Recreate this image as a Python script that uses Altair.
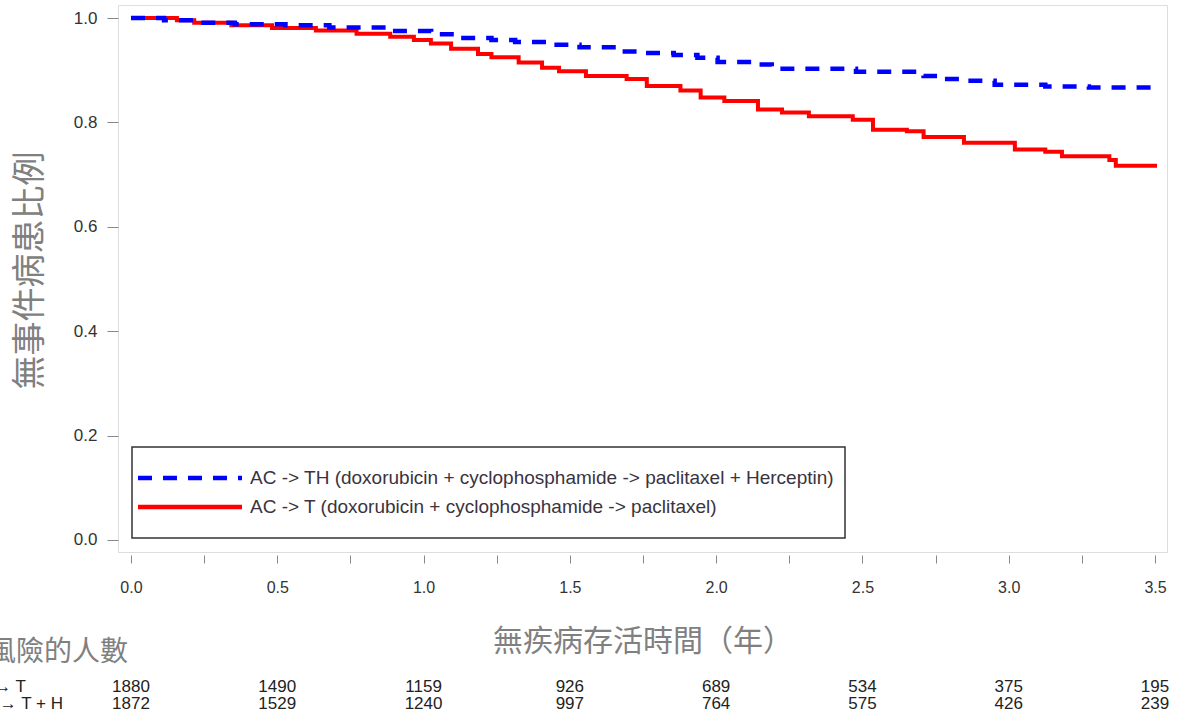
import altair as alt
import pandas as pd

# Kaplan-Meier curves
time_t = [0, 0.157, 0.216, 0.343, 0.482, 0.632, 0.771, 0.886, 0.967, 1.025, 1.094, 1.186,
          1.232, 1.325, 1.405, 1.463, 1.555, 1.694, 1.763, 1.878, 1.947, 2.028, 2.143, 2.225,
          2.317, 2.467, 2.536, 2.652, 2.709, 2.847, 3.021, 3.125, 3.182, 3.344, 3.366, 3.5]
surv_t = [1.0, 0.996, 0.991, 0.986, 0.981, 0.976, 0.970, 0.964, 0.958, 0.951, 0.941, 0.931,
          0.925, 0.915, 0.905, 0.898, 0.889, 0.883, 0.870, 0.861, 0.848, 0.841, 0.825, 0.819,
          0.812, 0.805, 0.786, 0.783, 0.772, 0.761, 0.748, 0.744, 0.735, 0.728, 0.717, 0.713]

time_th = [0, 0.113, 0.228, 0.355, 0.528, 0.678, 0.886, 1.026, 1.118, 1.232, 1.313, 1.439,
           1.533, 1.660, 1.74, 1.855, 1.936, 2.005, 2.132, 2.19, 2.478, 2.709, 2.778, 2.847,
           2.952, 3.125, 3.274, 3.5]
surv_th = [1.0, 0.996, 0.991, 0.988, 0.986, 0.982, 0.975, 0.969, 0.962, 0.958, 0.954, 0.949,
           0.944, 0.936, 0.933, 0.929, 0.924, 0.916, 0.911, 0.903, 0.897, 0.889, 0.883, 0.880,
           0.872, 0.869, 0.867, 0.865]

# Number at risk
risk_times = [0, 0.5, 1.0, 1.5, 2.0, 2.5, 3.0, 3.5]
risk_t = [1880, 1490, 1159, 926, 689, 534, 375, 195]
risk_th = [1872, 1529, 1240, 997, 764, 575, 426, 239]

x_ticks = [0, 0.25, 0.5, 0.75, 1.0, 1.25, 1.5, 1.75, 2.0, 2.25, 2.5, 2.75, 3.0, 3.25, 3.5]
y_ticks = [0.0, 0.2, 0.4, 0.6, 0.8, 1.0]

label_th = "AC -> TH (doxorubicin + cyclophosphamide -> paclitaxel + Herceptin)"
label_t = "AC -> T (doxorubicin + cyclophosphamide -> paclitaxel)"

df_t = pd.DataFrame({"time": time_t, "surv": surv_t})
df_th = pd.DataFrame({"time": time_th, "surv": surv_th})
df_rt = pd.DataFrame({"time": risk_times, "n": risk_t})
df_rth = pd.DataFrame({"time": risk_times, "n": risk_th})
one = pd.DataFrame({"a": [0]})

xscale = alt.Scale(domain=[-0.0444, 3.541], nice=False, zero=False)
yscale = alt.Scale(domain=[-0.023, 1.025], nice=False, zero=False)

CJK = "Noto Sans CJK TC"
SANS = "Liberation Sans"
NARROW = "Liberation Sans Narrow, Liberation Sans"

xaxis = alt.Axis(values=x_ticks,
                 labelExpr="(datum.value * 4) % 2 == 0 ? format(datum.value, '.1f') : ''",
                 tickSize=8, offset=3, domain=False, grid=False,
                 labelFont=SANS, labelFontSize=16, labelColor="#333", labelPadding=16,
                 tickColor="#888", tickWidth=1,
                 title="無疾病存活時間（年）", titleFont=CJK, titleFontSize=30,
                 titleFontWeight="normal", titleColor="#808080", titleY=86,
                 titleBaseline="middle")
yaxis = alt.Axis(values=y_ticks, format=".1f", tickSize=11, domain=False, grid=False,
                 labelFont=SANS, labelFontSize=17, labelColor="#333", labelPadding=10,
                 tickColor="#888", tickWidth=1,
                 title="無事件病患比例", titleFont=CJK, titleFontSize=34,
                 titleFontWeight="normal", titleColor="#808080", titleX=-88, titleY=265,
                 titleAngle=270, titleAlign="center", titleBaseline="middle")

red = alt.Chart(df_t).mark_line(color="#ff0000", strokeWidth=4, interpolate="step-after").encode(
    x=alt.X("time:Q", scale=xscale, axis=xaxis),
    y=alt.Y("surv:Q", scale=yscale, axis=yaxis),
)
blue = alt.Chart(df_th).mark_line(color="#0000ff", strokeWidth=4.5, strokeDash=[14, 11],
                                   interpolate="step-after").encode(
    x=alt.X("time:Q", scale=xscale),
    y=alt.Y("surv:Q", scale=yscale),
)

legend_box = alt.Chart(one).mark_rect(fill="white", stroke="#333", strokeWidth=1.5).encode(
    x=alt.value(14), x2=alt.value(727), y=alt.value(442), y2=alt.value(533))
leg_blue = alt.Chart(one).mark_rule(color="#0000ff", strokeWidth=4.5, strokeDash=[14, 11]).encode(
    x=alt.value(20), x2=alt.value(124), y=alt.value(473))
leg_red = alt.Chart(one).mark_rule(color="#ff0000", strokeWidth=4.5).encode(
    x=alt.value(20), x2=alt.value(124), y=alt.value(502))
leg_txt1 = alt.Chart(one).mark_text(text=label_th, align="left", baseline="middle",
                                    font=SANS, fontSize=19, color="#3a3340").encode(
    x=alt.value(132), y=alt.value(473))
leg_txt2 = alt.Chart(one).mark_text(text=label_t, align="left", baseline="middle",
                                    font=SANS, fontSize=19, color="#3a3340").encode(
    x=alt.value(132), y=alt.value(502))

risk_title = alt.Chart(one).mark_text(text="風險的人數", align="left", baseline="middle",
                                      font=CJK, fontSize=28, color="#808080").encode(
    x=alt.value(-130), y=alt.value(648))
row1_lbl = alt.Chart(one).mark_text(text="AC → T", align="right", baseline="middle",
                                    font=NARROW, fontSize=17, color="#222").encode(
    x=alt.value(-92), y=alt.value(682))
row2_lbl = alt.Chart(one).mark_text(text="AC → T + H", align="right", baseline="middle",
                                    font=NARROW, fontSize=17, color="#222").encode(
    x=alt.value(-55), y=alt.value(699))
row1 = alt.Chart(df_rt).mark_text(baseline="middle", font=NARROW, fontSize=17, color="#222").encode(
    x=alt.X("time:Q", scale=xscale), y=alt.value(682), text="n:Q")
row2 = alt.Chart(df_rth).mark_text(baseline="middle", font=NARROW, fontSize=17, color="#222").encode(
    x=alt.X("time:Q", scale=xscale), y=alt.value(699), text="n:Q")

chart = alt.layer(
    red, blue, legend_box, leg_blue, leg_red, leg_txt1, leg_txt2,
    risk_title, row1_lbl, row2_lbl, row1, row2
).properties(
    width=1049, height=547,
    padding={"left": 118, "top": 5, "right": 11, "bottom": 167},
    autosize=alt.AutoSizeParams(type="none"),
).configure_view(stroke="#999", strokeWidth=1.5).configure(background="white")

chart.save("out.html", embed_options={"renderer": "svg", "actions": False})
